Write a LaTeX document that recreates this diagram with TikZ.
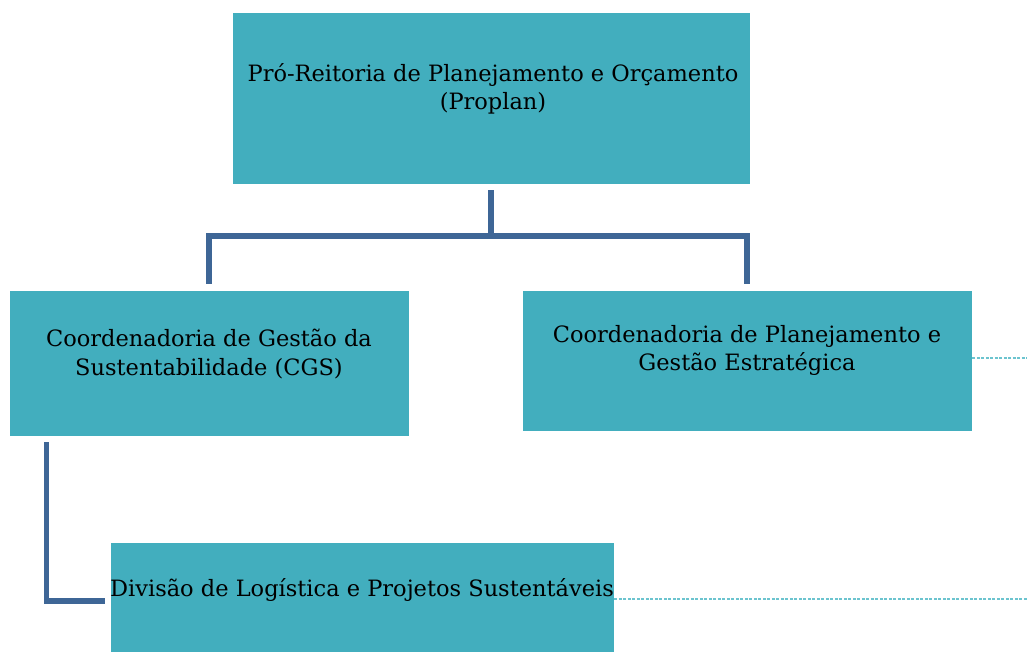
\documentclass[tikz,border=0pt]{standalone}
\usepackage{fontspec}
\setmainfont{DejaVu Serif}
\definecolor{boxfill}{HTML}{42AEBE}
\definecolor{conncol}{HTML}{3E6696}
\definecolor{dashcol}{HTML}{6CC4CF}
\tikzset{
  orgbox/.style={fill=boxfill, draw=white, line width=0.6pt, inner sep=0pt},
  orgtxt/.style={align=center, inner sep=0pt, font=\fontsize{22.5}{28.5}\selectfont, text=black},
  conn/.style={draw=conncol, line width=5.5pt},
  dashconn/.style={draw=dashcol, line width=2pt, dash pattern=on 3pt off 1.5pt}
}
\begin{document}
\begin{tikzpicture}[x=1pt,y=-1pt]
\useasboundingbox (0,0) rectangle (1027,652);
\node[orgbox, minimum width=518pt, minimum height=172pt] (top) at (491,98) {};
\node[orgtxt] (toptxt) at (493,89) {Pró-Reitoria de Planejamento e Orçamento\\(Proplan)};
\node[orgbox, minimum width=400pt, minimum height=146pt] (cgs) at (209,363) {};
\node[orgtxt] (cgstxt) at (209,354) {Coordenadoria de Gestão da\\Sustentabilidade (CGS)};
\node[orgbox, minimum width=450pt, minimum height=141pt] (cpge) at (747,360.5) {};
\node[orgtxt] (cpgetxt) at (747,350.5) {Coordenadoria de Planejamento e\\Gestão Estratégica};
\node[orgbox, minimum width=504pt, minimum height=114pt] (div) at (362,599) {};
\node[orgtxt] (divtxt) at (362,590) {Divisão de Logística e Projetos Sustentáveis};
\coordinate (bus) at (491,236);
\coordinate (r1) at (1027,358);
\coordinate (r2) at (1027,599);
\draw[conn] ([yshift=-6pt]top.south) -- (bus);
\draw[conn] ([yshift=6pt]cgs.north) |- (bus) -| ([yshift=6pt]cpge.north);
\draw[conn] ([xshift=38pt,yshift=-6pt]cgs.south west) |- ([xshift=-5pt,yshift=-2pt]div.west);
\draw[dashconn] ([yshift=2.5pt]cpge.east) -- (r1);
\draw[dashconn] (div.east) -- (r2);
\end{tikzpicture}
\end{document}
